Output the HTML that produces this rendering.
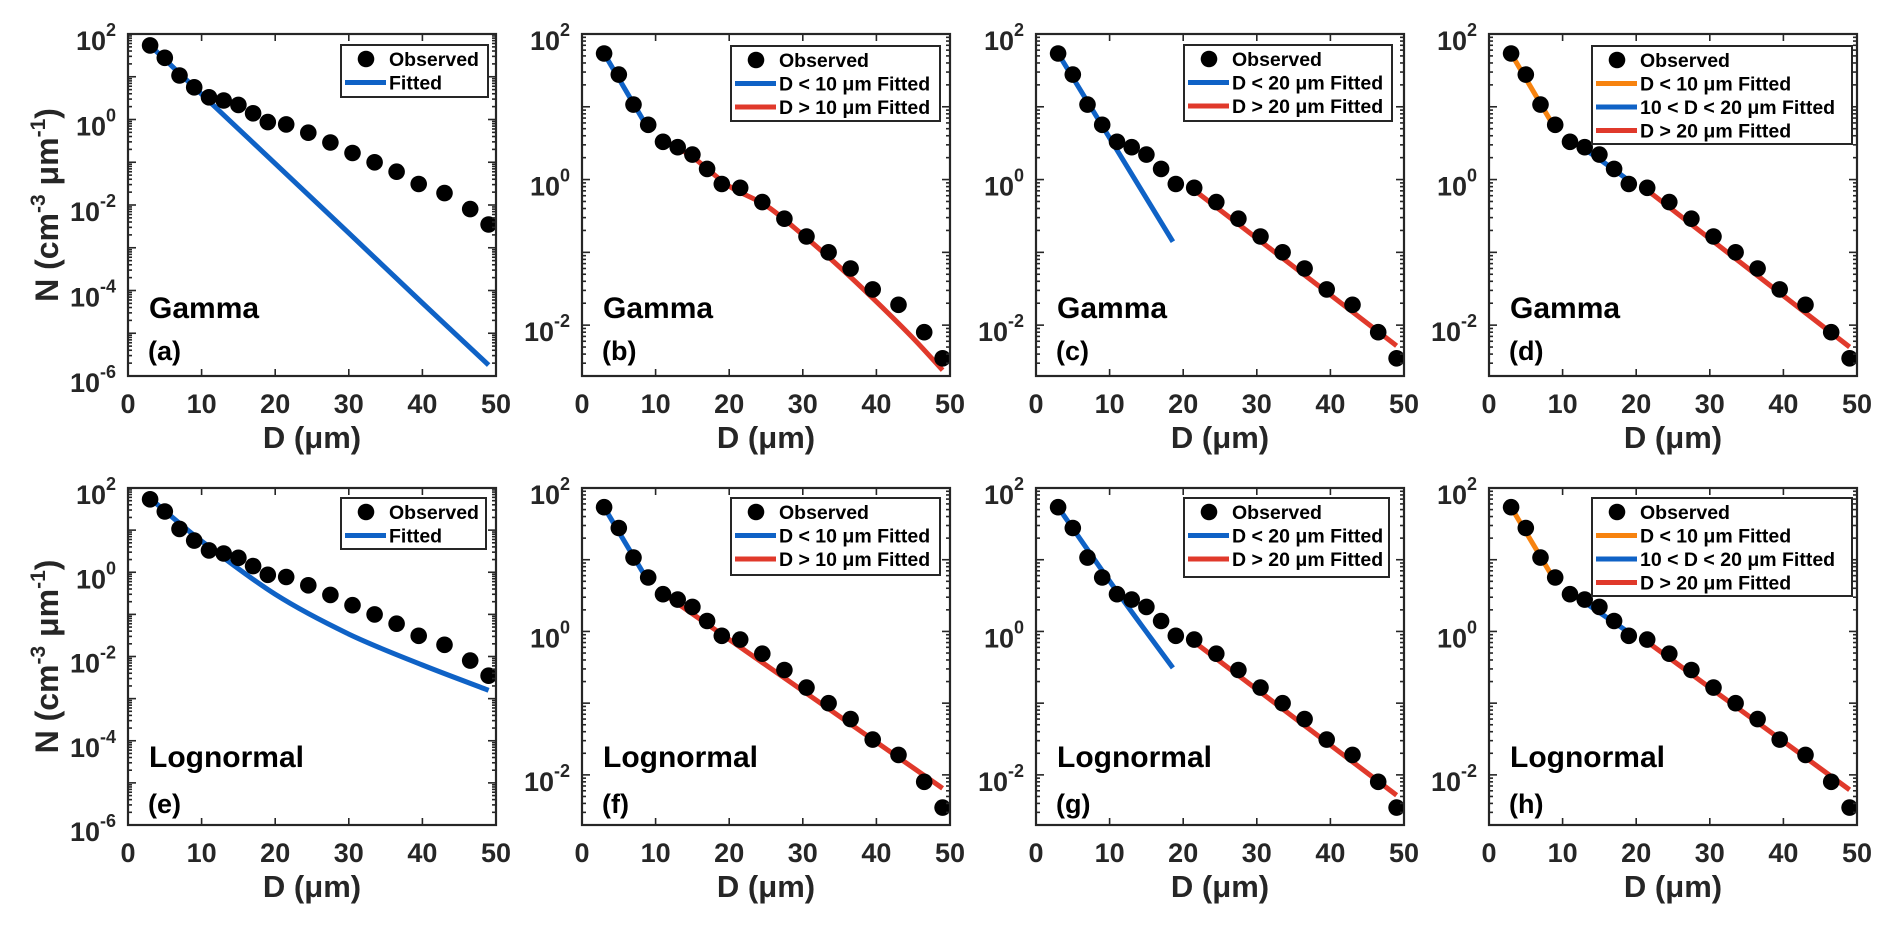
<!DOCTYPE html>
<html><head><meta charset="utf-8"><style>
html,body{margin:0;padding:0;background:#fff;}
svg{display:block;font-family:"Liberation Sans",Arial,sans-serif;font-weight:bold;}
</style></head><body>
<svg id="fig" width="1892" height="926" viewBox="0 0 1892 926"></svg>
<script>
// ===== Data =====
const obsD = [3,5,7,9,11,13,15,17,19,21.5,24.5,27.5,30.5,33.5,36.5,39.5,43,46.5,49];
const obsN = [54,27.7,10.7,5.65,3.3,2.78,2.2,1.4,0.87,0.77,0.49,0.29,0.165,0.1,0.06,0.031,0.019,0.008,0.0035];

const fitA_x = [3,10,20,30,40,49];
const fitA_y = [54,3.9,0.093,0.0022,5.1e-5,1.8e-6];
const fitB1_x = [3,9];        const fitB1_y = [54,5];
const fitB2_x = [11,15,20,25,30,35,40,45,49];
const fitB2_y = [3.5,2.05,0.81,0.44,0.174,0.063,0.021,0.0066,0.0024];
const fitC1_x = [3,18.6];     const fitC1_y = [54,0.14];
const fitC2_x = [21,49];      const fitC2_y = [0.78,0.0052];
const fitD1_x = [3,9];        const fitD1_y = [54,5];
const fitD2_x = [11,15,19];   const fitD2_y = [3.5,1.9,0.97];
const fitD3_x = [21,49];      const fitD3_y = [0.78,0.005];
const fitE_x = [3,10,20,30,40,49];
const fitE_y = [57,5.5,0.30,0.034,0.0063,0.00158];
const fitF1_x = [3,9];        const fitF1_y = [54,5];
const fitF2_x = [11,49];      const fitF2_y = [3.4,0.0065];
const fitG1_x = [3,11,18.6];  const fitG1_y = [54,3.6,0.31];
const fitG2_x = [21,49];      const fitG2_y = [0.78,0.0052];
const fitH1_x = [3,9];        const fitH1_y = [54,5];
const fitH2_x = [11,19];      const fitH2_y = [3.5,0.97];
const fitH3_x = [21,49];      const fitH3_y = [0.78,0.0062];

const xTicks = [0,10,20,30,40,50];
const yTicksWide = [-6,-4,-2,0,2];
const yTicksNarrow = [-2,0,2];

// ===== Drawing =====
const NS = "http://www.w3.org/2000/svg";
const svg = document.getElementById("fig");
const BLUE="#0F62C6", RED="#E0392B", ORANGE="#F7830F", INK="#262626";
function mk(tag, attrs, parent){
  const e=document.createElementNS(NS,tag);
  for(const k in attrs) e.setAttribute(k,attrs[k]);
  (parent||svg).appendChild(e); return e;
}
function smoothPath(pts){
  if(pts.length<3) return "M"+pts.map(p=>p[0].toFixed(1)+","+p[1].toFixed(1)).join("L");
  let d="M"+pts[0][0].toFixed(1)+","+pts[0][1].toFixed(1);
  for(let i=0;i<pts.length-1;i++){
    const p0=pts[Math.max(0,i-1)],p1=pts[i],p2=pts[i+1],p3=pts[Math.min(pts.length-1,i+2)];
    const c1=[p1[0]+(p2[0]-p0[0])/6,p1[1]+(p2[1]-p0[1])/6];
    const c2=[p2[0]-(p3[0]-p1[0])/6,p2[1]-(p3[1]-p1[1])/6];
    d+="C"+c1[0].toFixed(1)+","+c1[1].toFixed(1)+" "+c2[0].toFixed(1)+","+c2[1].toFixed(1)+" "+p2[0].toFixed(1)+","+p2[1].toFixed(1);
  }
  return d;
}
const W=368, lefts=[128,582,1036,1489], tops=[34,488], bots=[376,825];
const panels=[
 {r:0,c:0,ymin:-6,ymax:2,ticks:yTicksWide,dist:"Gamma",lab:"(a)",fits:[[fitA_x,fitA_y,BLUE]],
  leg:[["Fitted",BLUE]],lbox:[213,360,11,63]},
 {r:0,c:1,ymin:Math.log10(0.002),ymax:2,ticks:yTicksNarrow,dist:"Gamma",lab:"(b)",fits:[[fitB1_x,fitB1_y,BLUE],[fitB2_x,fitB2_y,RED]],
  leg:[["D < 10 μm Fitted",BLUE],["D > 10 μm Fitted",RED]],lbox:[149,358,12,87]},
 {r:0,c:2,ymin:Math.log10(0.002),ymax:2,ticks:yTicksNarrow,dist:"Gamma",lab:"(c)",fits:[[fitC1_x,fitC1_y,BLUE],[fitC2_x,fitC2_y,RED]],
  leg:[["D < 20 μm Fitted",BLUE],["D > 20 μm Fitted",RED]],lbox:[148,356,11,87]},
 {r:0,c:3,ymin:Math.log10(0.002),ymax:2,ticks:yTicksNarrow,dist:"Gamma",lab:"(d)",fits:[[fitD1_x,fitD1_y,ORANGE],[fitD2_x,fitD2_y,BLUE],[fitD3_x,fitD3_y,RED]],
  leg:[["D < 10 μm Fitted",ORANGE],["10 < D < 20 μm Fitted",BLUE],["D > 20 μm Fitted",RED]],lbox:[103,363,12,110]},
 {r:1,c:0,ymin:-6,ymax:2,ticks:yTicksWide,dist:"Lognormal",lab:"(e)",fits:[[fitE_x,fitE_y,BLUE]],
  leg:[["Fitted",BLUE]],lbox:[213,358,10,61]},
 {r:1,c:1,ymin:Math.log10(0.002),ymax:2,ticks:yTicksNarrow,dist:"Lognormal",lab:"(f)",fits:[[fitF1_x,fitF1_y,BLUE],[fitF2_x,fitF2_y,RED]],
  leg:[["D < 10 μm Fitted",BLUE],["D > 10 μm Fitted",RED]],lbox:[149,358,10,87]},
 {r:1,c:2,ymin:Math.log10(0.002),ymax:2,ticks:yTicksNarrow,dist:"Lognormal",lab:"(g)",fits:[[fitG1_x,fitG1_y,BLUE],[fitG2_x,fitG2_y,RED]],
  leg:[["D < 20 μm Fitted",BLUE],["D > 20 μm Fitted",RED]],lbox:[148,353,10,89]},
 {r:1,c:3,ymin:Math.log10(0.002),ymax:2,ticks:yTicksNarrow,dist:"Lognormal",lab:"(h)",fits:[[fitH1_x,fitH1_y,ORANGE],[fitH2_x,fitH2_y,BLUE],[fitH3_x,fitH3_y,RED]],
  leg:[["D < 10 μm Fitted",ORANGE],["10 < D < 20 μm Fitted",BLUE],["D > 20 μm Fitted",RED]],lbox:[103,363,10,108]}
];

panels.forEach((p,i)=>{
  const L=lefts[p.c], T=tops[p.r], B=bots[p.r], R=L+W;
  const g=mk("g",{});
  
  
  const sx=v=>L+v/50*W;
  const sy=v=>T+(p.ymax-Math.log10(v))/(p.ymax-p.ymin)*(B-T);
  const syl=l=>T+(p.ymax-l)/(p.ymax-p.ymin)*(B-T);
  // fits
  p.fits.forEach((f,k)=>{
    const pts=f[0].map((x,j)=>[sx(x),sy(f[1][j])]);
    const path=mk("path",{d:smoothPath(pts),fill:"none",stroke:f[2],"stroke-width":5,"stroke-linejoin":"round"},g);
    
    
  });
  // observed
  obsD.forEach((x,j)=>{
    const c=mk("circle",{cx:sx(x).toFixed(1),cy:sy(obsN[j]).toFixed(1),r:8.3,fill:"#000"},g);
    
    
  });
  // axes box
  const box=mk("rect",{x:L,y:T,width:W,height:B-T,fill:"none",stroke:INK,"stroke-width":2.2},g);
  
  
  // y ticks
  for(let dd=Math.floor(p.ymin);dd<=p.ymax;dd++){
    for(let m=1;m<=9;m++){
      const l=dd+Math.log10(m);
      if(l<p.ymin-1e-9||l>p.ymax+1e-9) continue;
      const y=syl(l), len=m===1?8:4;
      mk("line",{x1:L,x2:L+len,y1:y,y2:y,stroke:INK,"stroke-width":1.6},g);
      mk("line",{x1:R,x2:R-len,y1:y,y2:y,stroke:INK,"stroke-width":1.6},g);
    }
  }
  p.ticks.forEach(t=>{
    const y=syl(t);
    const tx=mk("text",{x:L-12,y:y+16,"text-anchor":"end","font-size":27,fill:INK},g);
    
    
    const a=mk("tspan",{},tx); a.textContent="10";
    const b=mk("tspan",{dy:-14,"font-size":18},tx); b.textContent=String(t);
  });
  // x ticks
  xTicks.forEach(t=>{
    const x=sx(t);
    if(t>0&&t<50){
      mk("line",{x1:x,x2:x,y1:B,y2:B-7,stroke:INK,"stroke-width":1.6},g);
      mk("line",{x1:x,x2:x,y1:T,y2:T+7,stroke:INK,"stroke-width":1.6},g);
    }
    const tx=mk("text",{x:x,y:B+37,"text-anchor":"middle","font-size":27,fill:INK},g);
    
    
    tx.textContent=String(t);
  });
  const xl=mk("text",{x:L+W/2,y:B+72,"text-anchor":"middle","font-size":31,fill:INK},g);
  
  
  xl.textContent="D (μm)";
  if(p.c===0){
    const cy=(T+B)/2;
    const yl=mk("text",{x:0,y:0,transform:`translate(58,${cy}) rotate(-90)`,"text-anchor":"middle","font-size":32,fill:INK},g);
    
    
    const s1=mk("tspan",{},yl); s1.textContent="N (cm";
    const s2=mk("tspan",{dy:-13,"font-size":21},yl); s2.textContent="-3";
    const s3=mk("tspan",{dy:13},yl); s3.textContent=" μm";
    const s4=mk("tspan",{dy:-13,"font-size":21},yl); s4.textContent="-1";
    const s5=mk("tspan",{dy:13},yl); s5.textContent=")";
  }
  // labels
  const dn=mk("text",{x:L+21,y:T+(p.r?279:284),"font-size":30,fill:"#000"},g);
  
  
  dn.textContent=p.dist;
  const pl=mk("text",{x:L+20,y:T+(p.r?325:326),"font-size":27,fill:"#000"},g);
  
  
  pl.textContent=p.lab;
  // legend
  const lg=mk("g",{},g);
  
  
  const bx=L+p.lbox[0], bw=p.lbox[1]-p.lbox[0], by=T+p.lbox[2], bh=p.lbox[3]-p.lbox[2];
  mk("rect",{x:bx,y:by,width:bw,height:bh,fill:"#fff",stroke:INK,"stroke-width":2},lg);
  const entries=[["Observed",null]].concat(p.leg);
  entries.forEach((e,k)=>{
    const y=by+14+k*23.5;
    const eg=mk("g",{},lg);
    
    
    if(e[1]===null) mk("circle",{cx:bx+25,cy:y,r:8.3,fill:"#000"},eg);
    else mk("line",{x1:bx+4,x2:bx+45,y1:y,y2:y,stroke:e[1],"stroke-width":5},eg);
    const t=mk("text",{x:bx+48,y:y+7,"font-size":19.5,fill:"#000"},eg);
    t.textContent=e[0];
  });
});
</script>
</body></html>
